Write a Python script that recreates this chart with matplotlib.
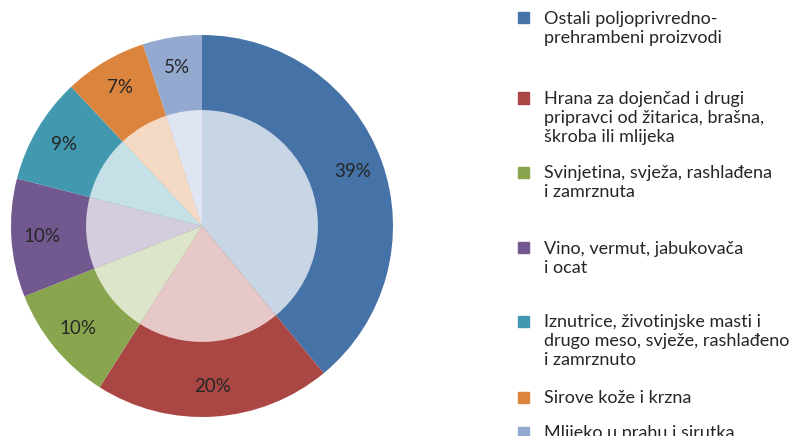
import matplotlib
matplotlib.use("Agg")
import matplotlib.pyplot as plt
from matplotlib.colors import to_rgb
from matplotlib.patches import Rectangle

# data
labels = [
    "Ostali poljoprivredno-\nprehrambeni proizvodi",
    "Hrana za dojenčad i drugi\npripravci od žitarica, brašna,\nškroba ili mlijeka",
    "Svinjetina, svježa, rashlađena\ni zamrznuta",
    "Vino, vermut, jabukovača\ni ocat",
    "Iznutrice, životinjske masti i\ndrugo meso, svježe, rashlađeno\ni zamrznuto",
    "Sirove kože i krzna",
    "Mlijeko u prahu i sirutka",
]
shares = [39, 20, 10, 10, 9, 7, 5]
colors = ["#4572A7", "#AA4643", "#89A54E", "#71588F", "#4198AF", "#DB843D", "#93A9CF"]
legend_y = [18, 98, 172, 248, 321, 397, 432]  # pixel rows of legend entries

plt.rcParams["font.family"] = ["Lato", "DejaVu Sans"]

W, H = 799, 436
fig = plt.figure(figsize=(W / 100, H / 100), dpi=100)

# pie axes
cx, cy, r = 202, 226, 191
ax = fig.add_axes([(cx - r) / W, (H - cy - r) / H, 2 * r / W, 2 * r / H])
ax.set_aspect("equal")

def lighten(c, a=0.3):
    rgb = to_rgb(c)
    return tuple(a * v + (1 - a) for v in rgb)

ax.pie(shares, colors=colors, startangle=90, counterclock=False, radius=1,
       wedgeprops=dict(linewidth=0),
       autopct="%d%%", pctdistance=0.84,
       textprops=dict(fontsize=13.5, color="#262626"))
ax.pie(shares, colors=[lighten(c) for c in colors], startangle=90, counterclock=False,
       radius=0.607, wedgeprops=dict(linewidth=0))
ax.set_xlim(-1, 1)
ax.set_ylim(-1, 1)
ax.axis("off")

# legend drawn by hand
for lab, col, y in zip(labels, colors, legend_y):
    fig.patches.append(Rectangle((518 / W, (H - y - 5.5) / H), 11 / W, 11 / H,
                                 transform=fig.transFigure, color=col))
    fig.text(544 / W, (H - y + 7) / H, lab, fontsize=13, color="#262626",
             va="top", ha="left", linespacing=1.22)

fig.savefig("out.png", dpi=100)
